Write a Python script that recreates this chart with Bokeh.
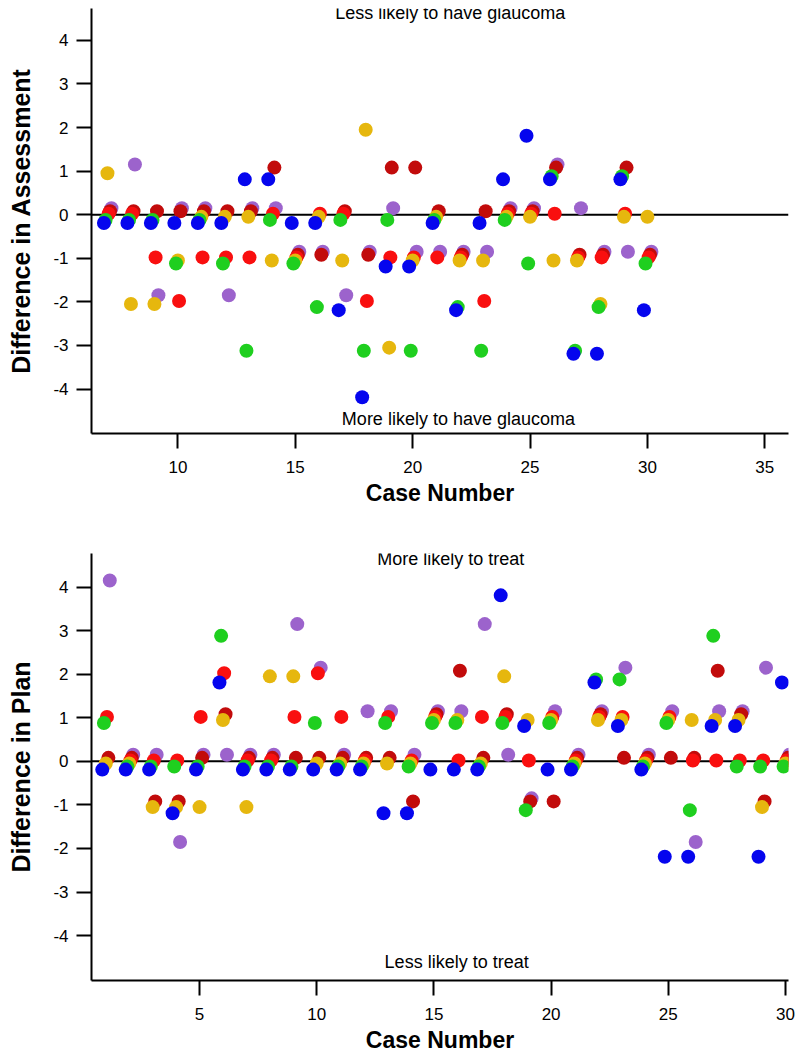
from bokeh.plotting import figure
from bokeh.layouts import column
from bokeh.models import Span, Range1d, FixedTicker, Label
from bokeh.embed import file_html
from bokeh.resources import INLINE

# ---------------- data ----------------
series = ["purple", "darkred", "red", "yellow", "green", "blue"]  # drawing order (back -> front)

# Top chart: Difference in Assessment, cases 7..30
assess_cases = [7, 8, 9, 10, 11, 12, 13, 14, 15, 16, 17, 18, 19, 20, 21, 22, 23, 24, 25, 26, 27, 28, 29, 30]
assess_blue    = [0, 0, 0, 0, 0, 0, 1, 1, 0, 0, -2, -4, -1, -1, 0, -2, 0, 1, 2, 1, -3, -3, 1, -2]
assess_green   = [0, 0, 0, -1, 0, -1, -3, 0, -1, -2, 0, -3, 0, -3, 0, -2, -3, 0, -1, 1, -3, -2, 1, -1]
assess_yellow  = [1, -2, -2, -1, 0, 0, 0, -1, -1, 0, -1, 2, -3, -1, 0, -1, -1, 0, 0, -1, -1, -2, 0, 0]
assess_red     = [0, 0, -1, -2, -1, -1, -1, 0, -1, 0, 0, -2, -1, -1, -1, -1, -2, 0, 0, 0, -1, -1, 0, -1]
assess_darkred = [0, 0, 0, 0, 0, 0, 0, 1, -1, -1, 0, -1, 1, 1, 0, -1, 0, 0, 0, 1, -1, -1, 1, -1]
assess_purple  = [0, 1, -2, 0, 0, -2, 0, 0, -1, -1, -2, -1, 0, -1, -1, -1, -1, 0, 0, 1, 0, -1, -1, -1]

# Bottom chart: Difference in Plan, cases 1..30
plan_cases = [1, 2, 3, 4, 5, 6, 7, 8, 9, 10, 11, 12, 13, 14, 15, 16, 17, 18, 19, 20,
              21, 22, 23, 24, 25, 26, 27, 28, 29, 30]
plan_blue    = [0, 0, 0, -1, 0, 2, 0, 0, 0, 0, 0, 0, -1, -1, 0, 0, 0, 4, 1, 0, 0, 2, 1, 0, -2, -2, 1, 1, -2, 2]
plan_green   = [1, 0, 0, 0, 0, 3, 0, 0, 0, 1, 0, 0, 1, 0, 1, 1, 0, 1, -1, 1, 0, 2, 2, 0, 1, -1, 3, 0, 0, 0]
plan_yellow  = [0, 0, -1, -1, -1, 1, -1, 2, 2, 0, 0, 0, 0, 0, 1, 1, 0, 2, 1, 1, 0, 1, 1, 0, 1, 1, 1, 1, -1, 0]
plan_red     = [1, 0, 0, 0, 1, 2, 0, 0, 1, 2, 1, 0, 1, 0, 1, 0, 1, 1, 0, 1, 0, 1, 1, 0, 1, 0, 0, 0, 0, 0]
plan_darkred = [0, 0, -1, -1, 0, 1, 0, 0, 0, 0, 0, 0, 0, -1, 1, 2, 0, 1, -1, -1, 0, 1, 0, 0, 0, 0, 2, 1, -1, 0]
plan_purple  = [4, 0, 0, -2, 0, 0, 0, 0, 3, 2, 0, 1, 1, 0, 1, 1, 3, 0, -1, 1, 0, 1, 2, 0, 1, -2, 1, 1, 2, 0]

assess_ticks_x = [10, 15, 20, 25, 30, 35]
plan_ticks_x = [5, 10, 15, 20, 25, 30]
ticks_y = [-4, -3, -2, -1, 0, 1, 2, 3, 4]
ticks_y_labels = ["-4", "-3", "-2", "-1", "0", "1", "2", "3", "4"]

# ---------------- style ----------------
colors = {"blue": "#0505ee", "green": "#1fcf1f", "yellow": "#e6b70e",
          "red": "#f90f0f", "darkred": "#c20b0b", "purple": "#9c63cc"}
# per-series dodge so overlapping points stay visible
dodge_x = {"blue": -0.15, "green": -0.08, "yellow": 0.0, "red": 0.05, "darkred": 0.11, "purple": 0.17}
dodge_y = {"blue": -0.19, "green": -0.12, "yellow": -0.05, "red": 0.02, "darkred": 0.08, "purple": 0.15}

FONT = "Liberation Sans"


def make_fig(xr, yr, height, top, bottom, xticks, ylabel):
    p = figure(width=800, height=height, x_range=Range1d(*xr), y_range=Range1d(*yr),
               output_backend="svg", toolbar_location=None,
               min_border_left=91, min_border_right=12,
               min_border_top=top, min_border_bottom=bottom)
    p.outline_line_color = None
    p.xgrid.visible = False
    p.ygrid.visible = False
    for ax in (p.xaxis[0], p.yaxis[0]):
        ax.axis_line_width = 2
        ax.axis_line_color = "black"
        ax.major_tick_line_width = 2
        ax.major_tick_line_color = "black"
        ax.major_tick_out = 15
        ax.major_tick_in = 0
        ax.minor_tick_line_color = None
        ax.major_label_text_font = FONT
        ax.major_label_text_font_size = "17px"
        ax.major_label_text_color = "black"
        ax.axis_label_text_font = FONT
        ax.axis_label_text_font_style = "bold"
        ax.axis_label_text_color = "black"
    p.xaxis[0].axis_label_text_font_size = "23px"
    p.yaxis[0].axis_label_text_font_size = "25px"
    p.xaxis[0].ticker = FixedTicker(ticks=xticks)
    p.yaxis[0].ticker = FixedTicker(ticks=ticks_y)
    p.yaxis[0].major_label_overrides = dict(zip(ticks_y, ticks_y_labels))
    p.xaxis[0].axis_label = "Case Number"
    p.yaxis[0].axis_label = ylabel
    p.xaxis[0].major_label_standoff = 12
    p.xaxis[0].axis_label_standoff = 4
    p.yaxis[0].major_label_standoff = 8
    p.yaxis[0].axis_label_standoff = 15
    p.add_layout(Span(location=0, dimension="width", line_color="black",
                      line_width=2, level="underlay"))
    return p


def add_points(p, cases, data):
    for name in series:
        vals = data[name]
        xs = [c + dodge_x[name] for c in cases]
        ys = [v + dodge_y[name] for v in vals]
        p.scatter(xs, ys, size=14, marker="circle", fill_color=colors[name],
                  line_color=None)


p1 = make_fig((6.32, 36.01), (-5.02, 4.73), 513, 8, 80, assess_ticks_x,
              "Difference in Assessment")
add_points(p1, assess_cases, {"blue": assess_blue, "green": assess_green,
                              "yellow": assess_yellow, "red": assess_red,
                              "darkred": assess_darkred, "purple": assess_purple})
p1.add_layout(Label(x=21.6, y=4.62, text="Less likely to have glaucoma",
                    text_align="center", text_baseline="middle",
                    text_font=FONT, text_font_size="18px", text_color="black"))
p1.add_layout(Label(x=21.95, y=-4.68, text="More likely to have glaucoma",
                    text_align="center", text_baseline="middle",
                    text_font=FONT, text_font_size="18px", text_color="black"))

p2 = make_fig((0.39, 30.13), (-5.03, 4.77), 544, 40, 77, plan_ticks_x,
              "Difference in Plan")
add_points(p2, plan_cases, {"blue": plan_blue, "green": plan_green,
                            "yellow": plan_yellow, "red": plan_red,
                            "darkred": plan_darkred, "purple": plan_purple})
p2.add_layout(Label(x=15.72, y=4.65, text="More likely to treat",
                    text_align="center", text_baseline="middle",
                    text_font=FONT, text_font_size="18px", text_color="black"))
p2.add_layout(Label(x=15.97, y=-4.61, text="Less likely to treat",
                    text_align="center", text_baseline="middle",
                    text_font=FONT, text_font_size="18px", text_color="black"))

layout = column(p1, p2, spacing=0)
open("out.html", "w").write(file_html(layout, INLINE))
